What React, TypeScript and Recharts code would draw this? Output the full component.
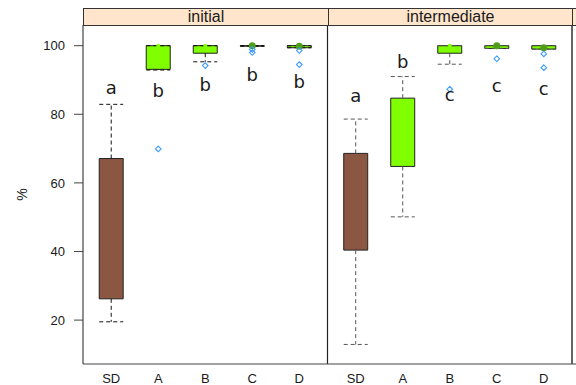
import React from 'react';
import {
  ComposedChart,
  XAxis,
  YAxis,
  ReferenceArea,
  ReferenceLine,
  Scatter,
} from 'recharts';

// Treatments shown in each panel, left to right
const categories = ['SD', 'A', 'B', 'C', 'D'];
const panelNames = ['initial', 'intermediate'];

// "initial" panel: five-number summaries, outliers and group letters
const initialLow = [19.5, 92.9, 95.3, 99.85, 99.4];
const initialQ1 = [26.2, 93.1, 97.8, 99.85, 99.4];
const initialMedian = [45.0, 100, 100, 100, 99.8];
const initialQ3 = [67.1, 100, 100, 100, 100];
const initialHigh = [82.9, 100, 100, 100, 100];
const initialOutliers = [[], [69.9], [94.2], [98.9, 98.0], [98.6, 94.5]];
const initialLetters = ['a', 'b', 'b', 'b', 'b'];
const initialLetterAt = [85.9, 85.1, 86.9, 89.8, 87.7];

// "intermediate" panel
const intermediateLow = [12.9, 50.1, 94.6, 99.2, 99.0];
const intermediateQ1 = [40.4, 64.8, 97.8, 99.2, 99.0];
const intermediateMedian = [55.0, 75.0, 100, 100, 99.4];
const intermediateQ3 = [68.6, 84.7, 100, 100, 100];
const intermediateHigh = [78.6, 91.0, 100, 100, 100];
const intermediateOutliers = [[], [], [87.3], [96.2], [97.6, 93.6]];
const intermediateLetters = ['a', 'b', 'c', 'c', 'c'];
const intermediateLetterAt = [83.6, 93.5, 83.9, 86.6, 85.6];

const yTicks = [20, 40, 60, 80, 100];

const panels = [
  {
    low: initialLow,
    q1: initialQ1,
    median: initialMedian,
    q3: initialQ3,
    high: initialHigh,
    outliers: initialOutliers,
    letters: initialLetters,
    letterAt: initialLetterAt,
  },
  {
    low: intermediateLow,
    q1: intermediateQ1,
    median: intermediateMedian,
    q3: intermediateQ3,
    high: intermediateHigh,
    outliers: intermediateOutliers,
    letters: intermediateLetters,
    letterAt: intermediateLetterAt,
  },
];

// layout of the shared numeric x scale: each panel spans 0.4..5.6 units
const PANEL_SPAN = 5.2;
const BOX_HALF = 0.255;
const X_MIN = 0.4;
const X_MAX = 10.885;
const Y_MIN = 7.2;
const Y_MAX = 106.03;

const W = 576;
const H = 385;
const PLOT_LEFT = 83;
const PLOT_TOP = 25;

const BROWN = '#8B5742';
const GREEN = '#7FFF00';
const DOT_GREEN = '#4f9e1a';
const OUTLIER = '#3d9cff';
const FONT = '"Liberation Sans", Arial, sans-serif';

const xOf = (p: number, i: number) => p * PANEL_SPAN + i + 1;

const xTicks = panels.flatMap((_, p) => categories.map((_c, i) => xOf(p, i)));

const outlierData = panels.flatMap((pd, p) =>
  pd.outliers.flatMap((vals, i) => vals.map((v) => ({ x: xOf(p, i), y: v })))
);

const medianData = panels.flatMap((pd, p) =>
  pd.median.map((m, i) => ({
    x: xOf(p, i),
    y: m,
    fill: i === 0 ? BROWN : pd.q3[i] - pd.q1[i] < 1.5 ? DOT_GREEN : GREEN,
    r: pd.q3[i] - pd.q1[i] < 1.5 ? 3.5 : 2,
  }))
);

const letterData = panels.flatMap((pd, p) =>
  pd.letters.map((l, i) => ({ x: xOf(p, i), y: pd.letterAt[i], label: l }))
);

// open diamond, as the small open-circle symbol renders
const OutlierShape = (props: any) => {
  const { cx, cy } = props;
  const s = 2.8;
  return (
    <path
      d={`M${cx},${cy - s}L${cx + s},${cy}L${cx},${cy + s}L${cx - s},${cy}Z`}
      fill="none"
      stroke={OUTLIER}
      strokeWidth={1.1}
    />
  );
};

const MedianShape = (props: any) => (
  <circle cx={props.cx} cy={props.cy} r={props.payload.r} fill={props.payload.fill} stroke="none" />
);

const LetterShape = (props: any) => (
  <text
    x={props.cx}
    y={props.cy}
    textAnchor="middle"
    fontFamily='"DejaVu Sans", sans-serif'
    fontSize={18}
    fill="#1a1a1a"
  >
    {props.payload.label}
  </text>
);

const PercentLabel = (props: any) => {
  const vb = props.viewBox || {};
  const cy = (vb.y ?? PLOT_TOP) + (vb.height ?? 0) / 2;
  return (
    <text
      x={22}
      y={cy}
      transform={`rotate(-90, 22, ${cy})`}
      textAnchor="middle"
      dominantBaseline="central"
      fontFamily={FONT}
      fontSize={14}
      fill="#222"
    >
      %
    </text>
  );
};

const stripStyle = (left: number, width: number): React.CSSProperties => ({
  position: 'absolute',
  left,
  top: 8,
  width,
  height: 18,
  boxSizing: 'border-box',
  background: '#FFE5CC',
  border: '1px solid #333',
  fontFamily: FONT,
  fontSize: 16,
  lineHeight: '16px',
  textAlign: 'center',
  color: '#1a1a1a',
  overflow: 'hidden',
});

export default function App() {
  const dash = '4 3';
  return (
    <div style={{ position: 'absolute', left: 0, top: 0, width: W, height: H, overflow: 'hidden', background: '#fff' }}>
      <ComposedChart
        width={W}
        height={H}
        margin={{ top: PLOT_TOP, right: 0, bottom: 0, left: 0 }}
      >
        <XAxis
          type="number"
          dataKey="x"
          domain={[X_MIN, X_MAX]}
          allowDataOverflow
          ticks={xTicks}
          tickFormatter={(_v: number, idx: number) => categories[idx % categories.length]}
          interval={0}
          height={21}
          tickLine={false}
          tickSize={6}
          tickMargin={4}
          axisLine={{ stroke: '#444', strokeWidth: 1.2 }}
          tick={{ fontFamily: FONT, fontSize: 13, fill: '#1a1a1a' }}
        />
        <YAxis
          type="number"
          dataKey="y"
          domain={[Y_MIN, Y_MAX]}
          allowDataOverflow
          ticks={yTicks}
          width={PLOT_LEFT}
          tickSize={9}
          tickMargin={9}
          tickLine={{ stroke: '#444' }}
          axisLine={{ stroke: '#444', strokeWidth: 1.2 }}
          tick={{ fontFamily: FONT, fontSize: 13, fill: '#1a1a1a' }}
          label={<PercentLabel />}
        />

        {/* boxes */}
        {panels.flatMap((pd, p) =>
          categories.map((_c, i) => (
            <ReferenceArea
              key={`box-${p}-${i}`}
              x1={xOf(p, i) - BOX_HALF}
              x2={xOf(p, i) + BOX_HALF}
              y1={pd.q1[i]}
              y2={pd.q3[i]}
              fill={i === 0 ? BROWN : GREEN}
              fillOpacity={1}
              stroke="#222"
              strokeWidth={1}
              ifOverflow="visible"
            />
          ))
        )}

        {/* whiskers and caps */}
        {panels.flatMap((pd, p) =>
          categories.flatMap((_c, i) => {
            const x = xOf(p, i);
            const col = p === 0 ? '#111' : '#555';
            const parts = [];
            if (pd.high[i] > pd.q3[i]) {
              parts.push(
                <ReferenceLine
                  key={`wu-${p}-${i}`}
                  segment={[{ x, y: pd.q3[i] }, { x, y: pd.high[i] }]}
                  stroke={col}
                  strokeDasharray={dash}
                  ifOverflow="visible"
                />
              );
            }
            if (pd.low[i] < pd.q1[i]) {
              parts.push(
                <ReferenceLine
                  key={`wl-${p}-${i}`}
                  segment={[{ x, y: pd.q1[i] }, { x, y: pd.low[i] }]}
                  stroke={col}
                  strokeDasharray={dash}
                  ifOverflow="visible"
                />
              );
            }
            parts.push(
              <ReferenceLine
                key={`cu-${p}-${i}`}
                segment={[{ x: x - BOX_HALF, y: pd.high[i] }, { x: x + BOX_HALF, y: pd.high[i] }]}
                stroke={col}
                strokeDasharray={dash}
                ifOverflow="visible"
              />
            );
            parts.push(
              <ReferenceLine
                key={`cl-${p}-${i}`}
                segment={[{ x: x - BOX_HALF, y: pd.low[i] }, { x: x + BOX_HALF, y: pd.low[i] }]}
                stroke={col}
                strokeDasharray={dash}
                ifOverflow="visible"
              />
            );
            return parts;
          })
        )}

        {/* panel borders */}
        <ReferenceLine x={PANEL_SPAN + X_MIN} stroke="#222" strokeWidth={1.2} ifOverflow="visible" />
        <ReferenceLine x={2 * PANEL_SPAN + X_MIN} stroke="#555" strokeWidth={1.8} ifOverflow="visible" />

        <Scatter data={medianData} shape={MedianShape} isAnimationActive={false} />
        <Scatter data={outlierData} shape={OutlierShape} isAnimationActive={false} />
        <Scatter data={letterData} shape={LetterShape} isAnimationActive={false} />
      </ComposedChart>

      {panelNames.map((name, p) => (
        <div key={name} style={stripStyle(PLOT_LEFT + p * 245, p === 0 ? 246 : 245)}>
          {name}
        </div>
      ))}
      <div style={stripStyle(PLOT_LEFT + 2 * 245 - 1, 20)} />
    </div>
  );
}
